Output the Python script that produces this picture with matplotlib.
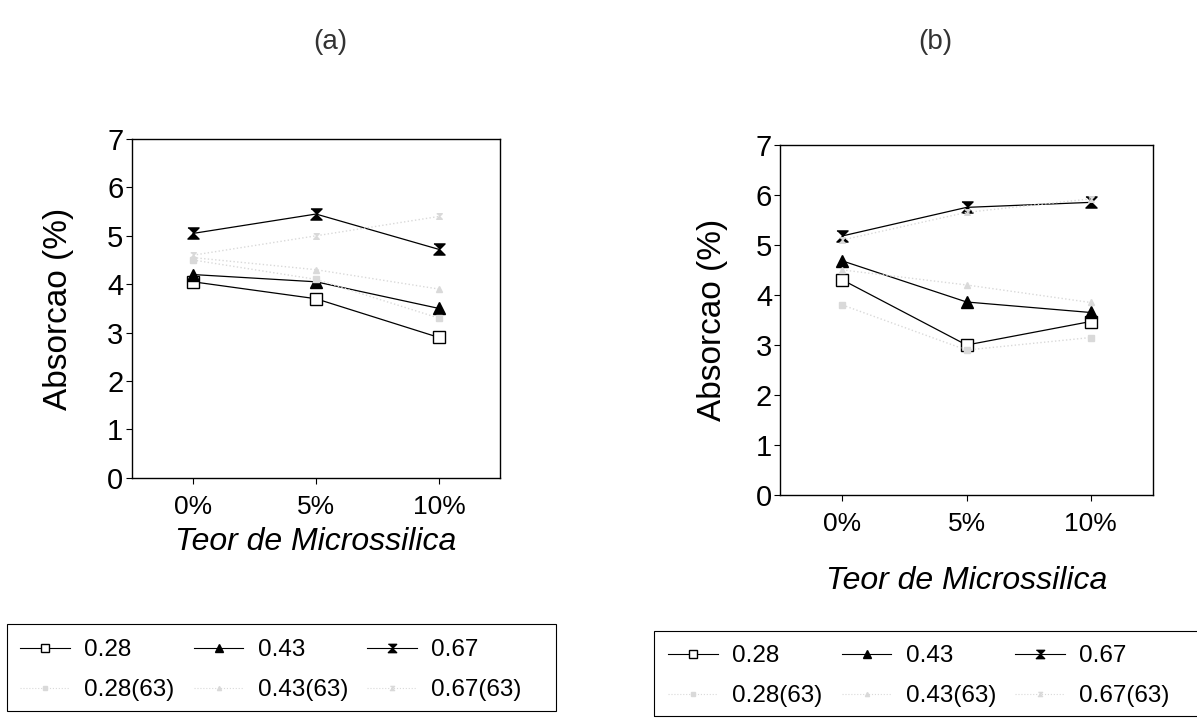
import matplotlib
matplotlib.use("Agg")
import matplotlib.pyplot as plt
from matplotlib.lines import Line2D
from matplotlib.patches import Rectangle

plt.rcParams['font.family'] = ['Liberation Sans', 'DejaVu Sans']

# categories (teor de microssilica)
categorias = ["0%", "5%", "10%"]

# painel (a)
a_028 = [4.05, 3.70, 2.90]
a_043 = [4.20, 4.05, 3.50]
a_067 = [5.05, 5.45, 4.72]
a_028_63 = [4.50, 4.10, 3.30]
a_043_63 = [4.55, 4.30, 3.90]
a_067_63 = [4.60, 5.00, 5.40]

# painel (b)
b_028 = [4.30, 3.00, 3.47]
b_043 = [4.68, 3.86, 3.65]
b_067 = [5.18, 5.75, 5.85]
b_028_63 = [3.80, 2.90, 3.15]
b_043_63 = [4.50, 4.20, 3.85]
b_067_63 = [5.10, 5.65, 5.92]

nomes = ["0.28", "0.43", "0.67", "0.28(63)", "0.43(63)", "0.67(63)"]

# hourglass marker like the original plotting package
ampulheta = [(-1, 1), (1, 1), (0, 0), (1, -1), (-1, -1), (0, 0)]
marcadores = ['s', '^', ampulheta]
faces = ['white', 'black', 'black']
cinza = '#d9d9d9'

fig = plt.figure(figsize=(11.97, 7.24), dpi=100)
ax_a = fig.add_axes([0.110, 0.340, 0.308, 0.468])
ax_b = fig.add_axes([0.652, 0.316, 0.311, 0.484])


def desenha(ax, principais, fracos, ypad, xpad):
    x = range(len(categorias))
    for vals, m, fc in zip(principais, marcadores, faces):
        ax.plot(x, vals, color='black', lw=0.9, marker=m, ms=8,
                mfc=fc, mec='black', mew=1.0)
    for vals, m in zip(fracos, marcadores):
        ax.plot(x, vals, color=cinza, lw=1.0, ls=':', marker=m, ms=4,
                mfc=cinza, mec=cinza)
    ax.set_xlim(-0.5, 2.5)
    ax.set_ylim(0, 7)
    ax.set_xticks(list(x))
    ax.set_xticklabels(categorias, fontsize=19)
    ax.set_yticks(range(8))
    ax.tick_params(axis='y', labelsize=21, length=4, width=0.8, pad=2)
    ax.tick_params(axis='x', length=4, width=0.8, pad=8)
    for s in ax.spines.values():
        s.set_linewidth(1.0)
    ax.set_ylabel("Absorcao (%)", fontsize=24, labelpad=ypad)
    ax.set_xlabel("Teor de Microssilica", fontsize=23, style='italic',
                  labelpad=xpad)


desenha(ax_a, [a_028, a_043, a_067], [a_028_63, a_043_63, a_067_63], 24, 6)
desenha(ax_b, [b_028, b_043, b_067], [b_028_63, b_043_63, b_067_63], 20, 22)

fig.text(330 / 1197, 1 - 42 / 724, "(a)", fontsize=20, color='#333333',
         ha='center', va='center')
fig.text(935 / 1197, 1 - 42 / 724, "(b)", fontsize=20, color='#333333',
         ha='center', va='center')

# legend handles: filled column-wise so rows read 0.28 0.43 0.67 / (63)
handles = []
for m, fc in zip(marcadores, faces):
    handles.append(Line2D([], [], color='black', lw=0.8, marker=m, ms=6,
                          mfc=fc, mec='black'))
fracos_h = [Line2D([], [], color=cinza, lw=0.8, ls=':', marker=m, ms=3,
                   mfc=cinza, mec=cinza) for m in marcadores]
ordem_h = [handles[0], fracos_h[0], handles[1], fracos_h[1], handles[2], fracos_h[2]]
ordem_n = [nomes[0], nomes[3], nomes[1], nomes[4], nomes[2], nomes[5]]

# (anchor of first handle, frame rect in pixels)
config = [
    ((20 / 1197, 1 - 639 / 724), (7, 624, 549, 87)),
    ((668 / 1197, 1 - 645 / 724), (654, 631, 560, 85)),
]
for anc, (fx, fy, fw, fh) in config:
    fig.legend(ordem_h, ordem_n, ncol=3, loc='upper left',
               bbox_to_anchor=anc, fontsize=17.5, frameon=False,
               handlelength=2.05, handletextpad=0.58, columnspacing=0.8,
               borderaxespad=0, borderpad=0, labelspacing=0.75)
    fig.patches.append(Rectangle((fx / 1197, 1 - (fy + fh) / 724),
                                 fw / 1197, fh / 724,
                                 transform=fig.transFigure, fill=False,
                                 edgecolor='black', lw=0.8))

fig.savefig("out.png", dpi=100)
